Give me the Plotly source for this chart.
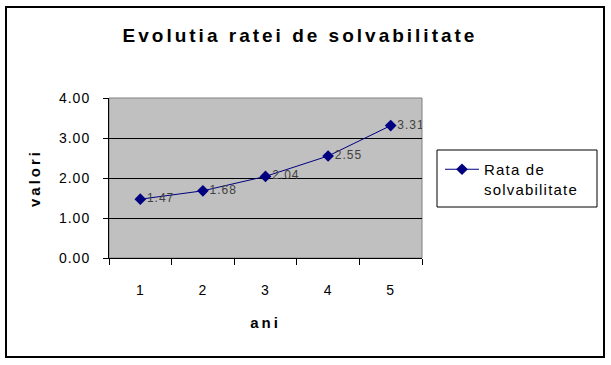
import plotly.graph_objects as go

years = [1, 2, 3, 4, 5]
rata = [1.47, 1.68, 2.04, 2.55, 3.31]
y_ticks = [0, 1, 2, 3, 4]
y_ticktext = ["0.00", "1.00", "2.00", "3.00", "4.00"]
series_name = "Rata de<br>solvabilitate"
title = "Evolutia ratei de solvabilitate"

FONT = "Liberation Sans, Arial, sans-serif"

fig = go.Figure()
fig.add_trace(go.Scatter(
    x=years, y=rata, mode="lines+markers+text",
    name=series_name,
    line=dict(color="#000080", width=1),
    marker=dict(symbol="diamond", size=9, color="#000080"),
    text=[f"{v:.2f}" for v in rata],
    textposition="middle right",
    textfont=dict(family=FONT, size=12, color="#404040"),
))

W, H = 611, 365
L, R, T, B = 109, 422, 98, 258
pw, ph = R - L, B - T

def px_x(x):
    return (x - L) / pw

def px_y(y):
    return (B - y) / ph

# outer border
fig.add_shape(type="rect", xref="paper", yref="paper",
              x0=px_x(6), x1=px_x(604), y0=px_y(357), y1=px_y(7),
              line=dict(color="black", width=2), fillcolor="rgba(0,0,0,0)", layer="below")
# plot area grey border
fig.add_shape(type="rect", xref="paper", yref="paper",
              x0=0, x1=1, y0=0, y1=1,
              line=dict(color="#808080", width=1), fillcolor="rgba(0,0,0,0)", layer="below")
# legend box
fig.add_shape(type="rect", xref="paper", yref="paper",
              x0=px_x(437), x1=px_x(597), y0=px_y(207), y1=px_y(150),
              line=dict(color="black", width=1), fillcolor="white", layer="below")

fig.update_layout(
    width=W, height=H, autosize=False,
    margin=dict(l=L, r=W - R, t=T, b=H - B, pad=0),
    paper_bgcolor="white", plot_bgcolor="#C0C0C0",
    font=dict(family=FONT, size=14, color="black"),
    title=dict(text="<b>" + title + "</b>", x=300 / W, xanchor="center",
               y=1 - 35 / H, yanchor="middle",
               font=dict(family=FONT, size=19, color="black")),
    showlegend=True,
    legend=dict(x=px_x(440), y=px_y(153), xanchor="left", yanchor="top",
                borderwidth=0, bgcolor="rgba(0,0,0,0)", valign="top",
                font=dict(family=FONT, size=15, color="black"),
                itemwidth=34),
    xaxis=dict(range=[0.5, 5.5], tickvals=years, ticktext=[str(v) for v in years],
               ticks="", showgrid=False, zeroline=False,
               showline=True, linecolor="black", linewidth=1,
               ticklabelstandoff=19,
               tickfont=dict(size=14),
               minor=dict(tickvals=[0.5, 1.5, 2.5, 3.5, 4.5, 5.5], ticks="outside",
                          ticklen=6, tickcolor="black", showgrid=False),
               title=dict(text="<b>ani</b>", standoff=20, font=dict(size=15))),
    yaxis=dict(range=[0, 4], tickvals=y_ticks, ticktext=y_ticktext,
               ticks="outside", ticklen=5, tickcolor="black",
               showgrid=True, gridcolor="black", gridwidth=1, zeroline=False,
               showline=True, linecolor="black", linewidth=1,
               ticklabelstandoff=10,
               tickfont=dict(size=14),
               title=dict(text="<b>valori</b>", standoff=18, font=dict(size=15))),
)

post = """
document.body.style.margin = '0';
function spacing(sel, v){ document.querySelectorAll(sel).forEach(function(e){ e.style.letterSpacing = v; }); }
spacing('.gtitle', '3px');
spacing('.xtitle', '3px');
spacing('.ytitle', '3px');
spacing('.legendtext', '1.2px');
spacing('.textpoint text', '1px');
spacing('.xtick text', '1px');
spacing('.ytick text', '1px');
document.querySelectorAll('.legend [clip-path]').forEach(function(e){ e.removeAttribute('clip-path'); });
"""

fig.write_html("out.html", post_script=post, config={"displayModeBar": False})
